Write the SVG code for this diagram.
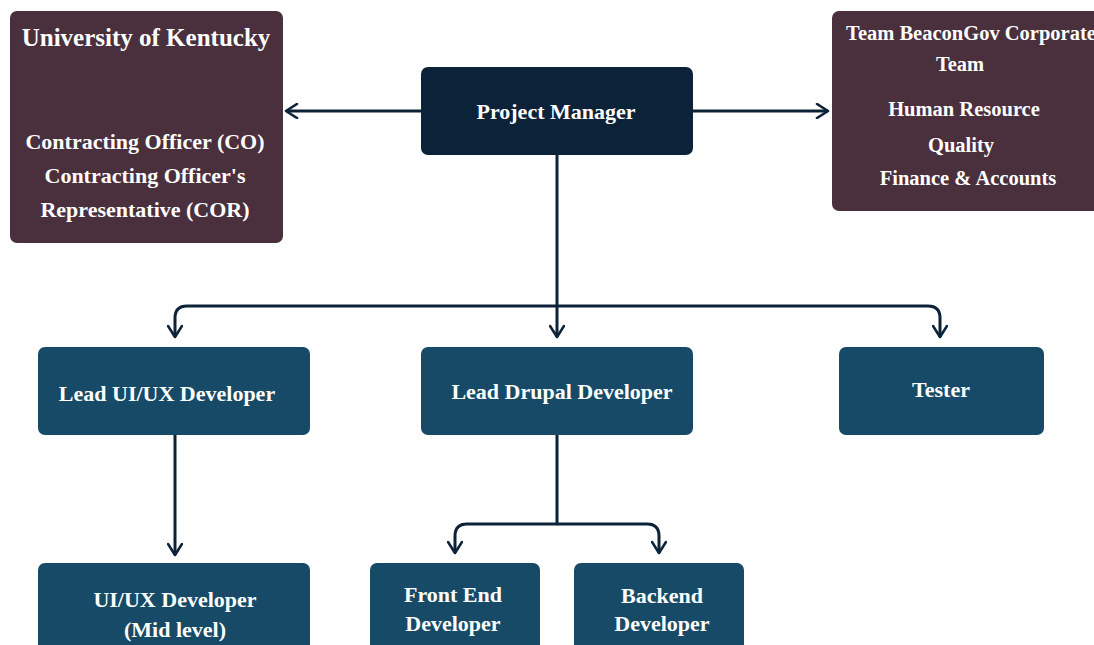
<svg xmlns="http://www.w3.org/2000/svg" width="1094" height="645" viewBox="0 0 1094 645">
<defs>
<style>
.t{font-family:"Liberation Serif","Times New Roman",serif;font-weight:bold;fill:#ffffff;text-anchor:middle;font-size:22px}
.s{font-size:20.5px}
.maroon{fill:#4a2f3d}
.navy{fill:#0c2238}
.teal{fill:#164a66}
.c{fill:none;stroke:#0c2238;stroke-width:3;stroke-linejoin:round}
</style>
<marker id="ah" viewBox="0 0 16 16" refX="13" refY="8" markerWidth="16" markerHeight="16" markerUnits="userSpaceOnUse" orient="auto">
<path d="M2,1 L13,8 L2,15" fill="none" stroke="#0c2238" stroke-width="2.6" stroke-linecap="round" stroke-linejoin="round"/>
</marker>
</defs>
<rect width="1094" height="645" fill="#ffffff"/>
<g id="connectors">
<path class="c" d="M421,111 H286" marker-end="url(#ah)"/>
<path class="c" d="M693,111 H828" marker-end="url(#ah)"/>
<path class="c" d="M557,155 V337" marker-end="url(#ah)"/>
<path class="c" d="M557,306 H187 Q175,306 175,318 V337" marker-end="url(#ah)"/>
<path class="c" d="M557,306 H928 Q940,306 940,318 V337" marker-end="url(#ah)"/>
<path class="c" d="M175,435 V555" marker-end="url(#ah)"/>
<path class="c" d="M557,435 V524 H467 Q455,524 455,536 V553" marker-end="url(#ah)"/>
<path class="c" d="M557,524 H647 Q659,524 659,536 V553" marker-end="url(#ah)"/>
</g>
<g id="uk">
<rect class="maroon" x="10" y="11" width="273" height="232" rx="7"/>
<text class="t" x="146" y="46" font-size="25" style="font-size:25px">University of Kentucky</text>
<text class="t" x="145" y="149">Contracting Officer (CO)</text>
<text class="t" x="145" y="183">Contracting Officer's</text>
<text class="t" x="145" y="217">Representative (COR)</text>
</g>
<g id="beacongov">
<rect class="maroon" x="832" y="11" width="270" height="200" rx="7"/>
<text class="t s" x="971" y="40">Team BeaconGov Corporate</text>
<text class="t s" x="960" y="71">Team</text>
<text class="t s" x="964" y="116">Human Resource</text>
<text class="t s" x="961" y="152">Quality</text>
<text class="t s" x="968" y="185">Finance &amp; Accounts</text>
</g>
<g id="pm">
<rect class="navy" x="421" y="67" width="272" height="88" rx="7"/>
<text class="t" x="556" y="119">Project Manager</text>
</g>
<g id="lead-uiux">
<rect class="teal" x="38" y="347" width="272" height="88" rx="7"/>
<text class="t" x="167" y="401">Lead UI/UX Developer</text>
</g>
<g id="lead-drupal">
<rect class="teal" x="421" y="347" width="272" height="88" rx="7"/>
<text class="t" x="562" y="399">Lead Drupal Developer</text>
</g>
<g id="tester">
<rect class="teal" x="839" y="347" width="205" height="88" rx="7"/>
<text class="t" x="941" y="397">Tester</text>
</g>
<g id="uiux-dev">
<rect class="teal" x="38" y="563" width="272" height="100" rx="7"/>
<text class="t" x="175" y="607">UI/UX Developer</text>
<text class="t" x="175" y="637">(Mid level)</text>
</g>
<g id="frontend">
<rect class="teal" x="370" y="563" width="170" height="100" rx="7"/>
<text class="t" x="453" y="602">Front End</text>
<text class="t" x="453" y="631">Developer</text>
</g>
<g id="backend">
<rect class="teal" x="574" y="563" width="170" height="100" rx="7"/>
<text class="t" x="662" y="603">Backend</text>
<text class="t" x="662" y="631">Developer</text>
</g>
</svg>
